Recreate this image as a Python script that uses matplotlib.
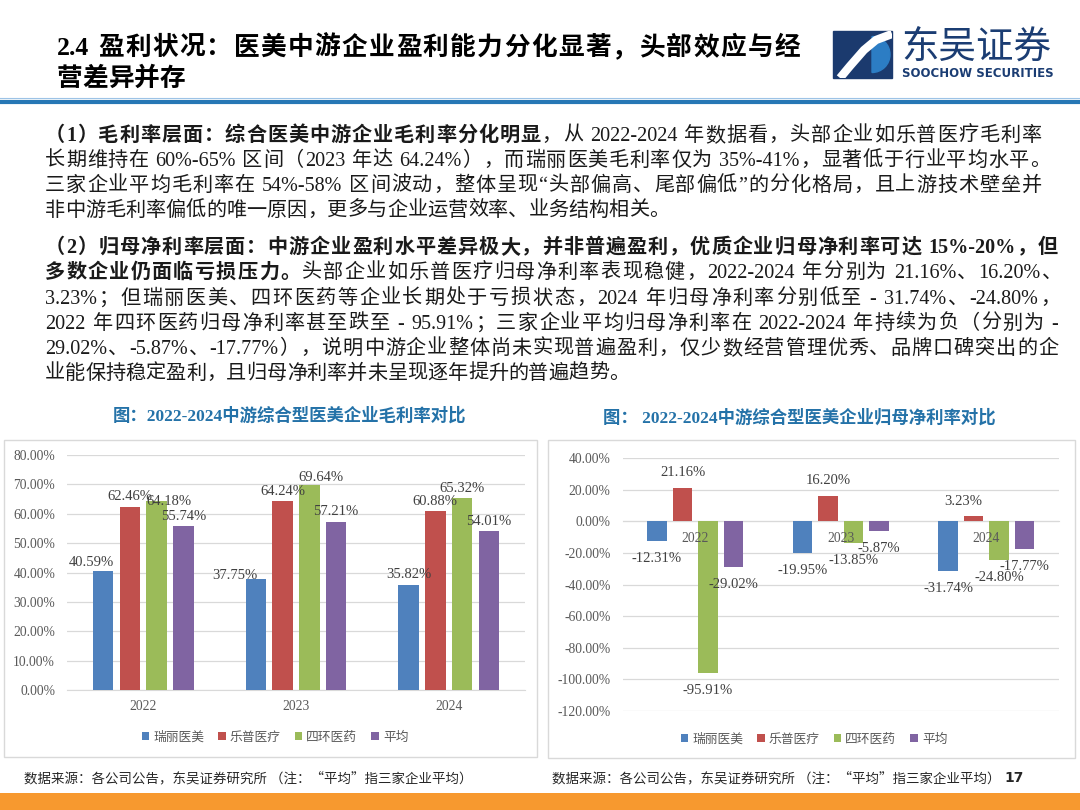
import re
import matplotlib
matplotlib.use('Agg')
import numpy as np
from matplotlib import pyplot as plt
from matplotlib import font_manager as fm
from matplotlib.ft2font import FT2Font
from matplotlib.patches import Rectangle, Wedge
from matplotlib.ticker import MultipleLocator, FuncFormatter

CJK = ['Noto Sans CJK SC', 'DejaVu Sans']
SERIF = ['Liberation Serif', 'Noto Sans CJK SC']
plt.rcParams['font.family'] = CJK

years = ['2022', '2023', '2024']
companies = ['瑞丽医美', '乐普医疗', '四环医药', '平均']
colors = ['#4F81BD', '#C0504D', '#9BBB59', '#8064A2']

# gross margin, %
gross_ruili = [40.59, 37.75, 35.82]
gross_lepu = [62.46, 64.24, 60.88]
gross_sihuan = [64.18, 69.64, 65.32]
gross_avg = [55.74, 57.21, 54.01]

# net margin attributable to parent, %
net_ruili = [-12.31, -19.95, -31.74]
net_lepu = [21.16, 16.20, 3.23]
net_sihuan = [-95.91, -13.85, -24.80]
net_avg = [-29.02, -5.87, -17.77]

title_lines = ['2.4 盈利状况：医美中游企业盈利能力分化显著，头部效应与经', '营差异并存']

para1 = [
    [('（1）毛利率层面：综合医美中游企业毛利率分化明显', True), ('，从 2022-2024 年数据看，头部企业如乐普医疗毛利率', False)],
    [('长期维持在 60%-65% 区间（2023 年达 64.24%），而瑞丽医美毛利率仅为 35%-41%，显著低于行业平均水平。', False)],
    [('三家企业平均毛利率在 54%-58% 区间波动，整体呈现“头部偏高、尾部偏低”的分化格局，且上游技术壁垒并', False)],
    [('非中游毛利率偏低的唯一原因，更多与企业运营效率、业务结构相关。', False)],
]
para2 = [
    [('（2）归母净利率层面：中游企业盈利水平差异极大，并非普遍盈利，优质企业归母净利率可达 15%-20%，但', True)],
    [('多数企业仍面临亏损压力。', True), ('头部企业如乐普医疗归母净利率表现稳健，2022-2024 年分别为 21.16%、16.20%、', False)],
    [('3.23%；但瑞丽医美、四环医药等企业长期处于亏损状态，2024 年归母净利率分别低至 - 31.74%、-24.80%，', False)],
    [('2022 年四环医药归母净利率甚至跌至 - 95.91%；三家企业平均归母净利率在 2022-2024 年持续为负（分别为 -', False)],
    [('29.02%、-5.87%、-17.77%），说明中游企业整体尚未实现普遍盈利，仅少数经营管理优秀、品牌口碑突出的企', False)],
    [('业能保持稳定盈利，且归母净利率并未呈现逐年提升的普遍趋势。', False)],
]
source_note = '数据来源：各公司公告，东吴证券研究所 （注：“平均”指三家企业平均）'

W, H = 1080, 810
fig = plt.figure(figsize=(10.8, 8.1), dpi=100, facecolor='white')
bg = fig.add_axes([0, 0, 1, 1])
bg.set_xlim(0, W)
bg.set_ylim(H, 0)
bg.axis('off')
renderer = fig.canvas.get_renderer()

_fonts = {}


def get_font(family, weight):
    key = (family, weight)
    if key not in _fonts:
        path = fm.findfont(fm.FontProperties(family=family, weight=weight))
        f = FT2Font(path)
        _fonts[key] = (f, set(f.get_charmap().keys()))
    return _fonts[key]


def char_adv(c, weight, size):
    for fam in SERIF:
        f, cmap = get_font(fam, weight)
        if ord(c) in cmap:
            f.set_size(size, 100)
            return f.load_char(ord(c)).linearHoriAdvance / 65536
    return size * 100 / 72


def draw_line(x0, yc, parts, size, right=None, color='#1a1a1a'):
    em = size * 100 / 72
    y = yc + 0.38 * em
    items = []
    for txt, bold in parts:
        weight = 'bold' if bold else 'normal'
        for tok in re.findall(r'[!-~]+| |[^\x00-\x7f]', txt):
            w = sum(char_adv(c, weight, size) for c in tok)
            t = None
            if tok != ' ':
                t = bg.text(0, y, tok, fontsize=size, fontweight=weight, family=SERIF,
                            color=color, ha='left', va='baseline')
            items.append((t, w))
    gap = 0
    if right is not None and len(items) > 1:
        gap = (right - x0 - sum(w for _, w in items)) / (len(items) - 1)
    x = x0
    for t, w in items:
        if t is not None:
            t.set_x(x)
        x += w + gap


# header
draw_line(57, 45, [(title_lines[0], True)], 18.5, right=800, color='black')
draw_line(57, 76, [(title_lines[1], True)], 18.5, color='black')

# logo
box = Rectangle((833, 31), 59, 47, color='#1B3A6E', zorder=2)
bg.add_patch(box)
bg.add_patch(Wedge((872, 54.5), 18, -90, 90, color='#2C7DC4', zorder=3))
s_line, = bg.plot([840, 850, 864, 876, 892], [78, 66, 50, 40, 34], color='white', lw=6,
                  solid_capstyle='butt', zorder=4)
s_line.set_clip_path(box)
bg.text(901, 47, '东吴证券', fontsize=27, color='#1B3D73', ha='left', va='center')
t = bg.text(902, 73.5, 'SOOCHOW SECURITIES', fontsize=10, family='DejaVu Sans',
            fontweight='bold', color='#1B3D73', ha='left', va='center')
t.set_fontsize(10 * 151 / t.get_window_extent(renderer).width)

bg.plot([0, W], [97.5, 97.5], color='#9DC3E6', lw=0.8)
bg.plot([0, W], [101.5, 101.5], color='#2677B5', lw=3)

# paragraphs
p1_y = [133, 158, 183, 208]
p1_right = [1042, 1050, 1042, None]
for parts, y, r in zip(para1, p1_y, p1_right):
    draw_line(45, y, parts, 14.5, right=r)
p2_y = [245, 270, 296, 321, 346, 371]
p2_right = [1058, 1062, 1060, 1058, 1058, None]
for parts, y, r in zip(para2, p2_y, p2_right):
    draw_line(45, y, parts, 14.5, right=r)

# chart frames and titles
bg.add_patch(Rectangle((4, 440), 533, 317, fill=False, ec='#d9d9d9', lw=1))
bg.add_patch(Rectangle((548, 440), 527, 318, fill=False, ec='#d9d9d9', lw=1))
bg.text(290, 416, '图：2022-2024中游综合型医美企业毛利率对比', fontsize=12.5, family=SERIF,
        fontweight='bold', color='#2472A8', ha='center', va='center')
bg.text(799, 418, '图： 2022-2024中游综合型医美企业归母净利率对比', fontsize=12.5, family=SERIF,
        fontweight='bold', color='#2472A8', ha='center', va='center')

# footer
bg.text(24, 778, source_note, fontsize=9.7, color='#262626', ha='left', va='center')
bg.text(552, 778, source_note, fontsize=9.7, color='#262626', ha='left', va='center')
bg.text(1004, 778, '17', fontsize=10, family='DejaVu Sans', fontweight='bold',
        color='#262626', ha='left', va='center')
bg.add_patch(Rectangle((0, 793), W, 17, color='#F7992F', lw=0))


def px_axes(l, t, r, b):
    return fig.add_axes([l / W, 1 - b / H, (r - l) / W, (b - t) / H])


def bar_chart(ax, series, lo, hi, step, nudges, up, down):
    x = np.arange(len(years))
    for i, vals in enumerate(series):
        xs = x + (i - 1.5) * 0.175
        ax.bar(xs, vals, width=0.134, color=colors[i], label=companies[i], zorder=3)
        for j, (xx, v) in enumerate(zip(xs, vals)):
            dx, dy = nudges.get((i, j), (0, 0))
            base = up if v >= 0 else -down
            ax.annotate(f'{v:.2f}%', (xx, v), xytext=(dx, base + dy), textcoords='offset pixels',
                        ha='center', va='center', fontsize=10.5, family=SERIF, color='#404040',
                        zorder=6, annotation_clip=False)
    for j, yr in enumerate(years):
        ax.annotate(yr, (j, 0), xytext=(0, -17), textcoords='offset pixels', ha='center',
                    va='center', fontsize=9.8, family=SERIF, color='#595959', zorder=5,
                    annotation_clip=False)
    ax.set_xlim(-0.5, 2.5)
    ax.set_ylim(lo, hi)
    ax.set_xticks([])
    ax.yaxis.set_major_locator(MultipleLocator(step))
    ax.yaxis.set_major_formatter(FuncFormatter(lambda v, p: f'{v:.2f}%'))
    ax.tick_params(axis='y', length=0, pad=8.5, labelsize=9.8, labelcolor='#595959')
    for lbl in ax.get_yticklabels():
        lbl.set_family(SERIF)
    ax.grid(axis='y', color='#d9d9d9', lw=0.9, zorder=0)
    for s in ['top', 'right', 'left']:
        ax.spines[s].set_visible(False)
    ax.spines['bottom'].set_color('#d9d9d9')
    ax.spines['bottom'].set_position(('data', 0))
    ax.set_facecolor('none')


ax1 = px_axes(67, 455, 525, 690)
bar_chart(ax1, [gross_ruili, gross_lepu, gross_sihuan, gross_avg], 0, 80, 10,
          {(0, 0): (-12, -2), (0, 1): (-21, -6.5), (2, 0): (12, -10), (2, 1): (12, -2)}, 10, 17)

ax2 = px_axes(622.5, 458, 1059, 711)
bar_chart(ax2, [net_ruili, net_lepu, net_sihuan, net_avg], -120, 40, 20,
          {(1, 2): (-10, 0)}, 15, 17.5)

for ax, cx, cy in [(ax1, 275, 737), (ax2, 814, 739)]:
    h, l = ax.get_legend_handles_labels()
    fig.legend(h, l, loc='center', bbox_to_anchor=(cx / W, 1 - cy / H), ncol=4, frameon=False,
               fontsize=9.2, labelcolor='#595959', handlelength=0.6, handleheight=0.6,
               handletextpad=0.3, columnspacing=1.1, borderaxespad=0)

fig.savefig('out.png', dpi=100, facecolor='white')
